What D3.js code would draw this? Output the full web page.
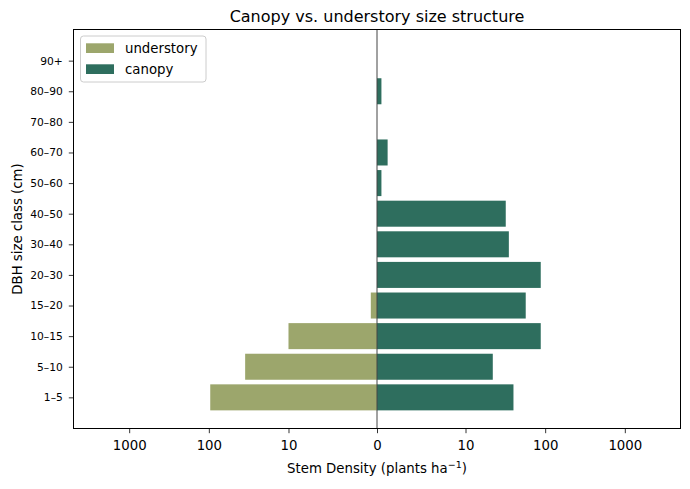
<!DOCTYPE html>
<html>
<head>
<meta charset="utf-8">
<script src="https://cdn.jsdelivr.net/npm/d3@7"></script>
<style>
  body { margin: 0; background: #fff; }
  text { font-family: "DejaVu Sans", sans-serif; fill: #000; }
</style>
</head>
<body>
<script>
const classes = ['1–5', '5–10', '10–15', '15–20', '20–30', '30–40', '40–50', '50–60', '60–70', '70–80', '80–90', '90+'];
const understory = [96, 35, 10, 0.7, 0, 0, 0, 0, 0, 0, 0, 0];
const canopy = [40, 22, 88, 57, 88, 35, 32, 0.5, 1.2, 0, 0.5, 0];
const xTicks = [-1000, -100, -10, 0, 10, 100, 1000];

const width = 690;
const height = 489;
const m = {left: 73.5, right: 680.5, top: 29.5, bottom: 428.5};

const svg = d3.select('body')
    .append('svg')
    .attr('width', width)
    .attr('height', height);

// matplotlib-like symlog, linthresh 10
const linthresh = 10;
const linAdj = 1 / (1 - 1 / 10);
function symlog(v) {
    const a = Math.abs(v);
    if (a <= linthresh) return v / linthresh * linAdj;
    return Math.sign(v) * (linAdj + Math.log10(a / linthresh));
}
const lin = d3.scaleLinear()
    .domain([symlog(-5000), symlog(5000)])
    .range([m.left, m.right]);
const x = v => lin(symlog(v));

const barH = 0.85;
const y = d3.scaleLinear()
    .domain([-0.425 - 0.5925, 11.425 + 0.5925])
    .range([m.bottom, m.top]);
const bandPx = y(0) - y(barH);

// bars
svg.append('g').selectAll('rect')
    .data(understory.map((v, i) => ({v, i})).filter(d => d.v > 0))
    .join('rect')
    .attr('x', d => x(-d.v))
    .attr('y', d => y(d.i + barH / 2))
    .attr('width', d => x(0) - x(-d.v))
    .attr('height', bandPx)
    .style('fill', '#9ca66c');

svg.append('g').selectAll('rect')
    .data(canopy.map((v, i) => ({v, i})).filter(d => d.v > 0))
    .join('rect')
    .attr('x', x(0))
    .attr('y', d => y(d.i + barH / 2))
    .attr('width', d => x(d.v) - x(0))
    .attr('height', bandPx)
    .style('fill', '#2e6e5e');

// zero line
svg.append('line')
    .attr('x1', x(0)).attr('x2', x(0))
    .attr('y1', m.top).attr('y2', m.bottom)
    .style('stroke', '#444')
    .style('stroke-width', 1);

// axes
const xAxis = d3.axisBottom(lin)
    .tickValues(xTicks.map(symlog))
    .tickFormat((d, i) => String(Math.abs(xTicks[i])))
    .tickSizeOuter(0)
    .tickSize(4.7)
    .tickPadding(7);
const gx = svg.append('g')
    .attr('transform', `translate(0,${m.bottom})`)
    .call(xAxis);
gx.select('.domain').remove();
gx.selectAll('text').style('font-size', '13.3px').style('font-family', '"DejaVu Sans", sans-serif');
gx.selectAll('line').style('stroke', '#000').style('stroke-width', 0.8);

const yAxis = d3.axisLeft(y)
    .tickValues(d3.range(classes.length))
    .tickFormat(i => classes[i])
    .tickSizeOuter(0)
    .tickSize(4.7)
    .tickPadding(6);
const gy = svg.append('g')
    .attr('transform', `translate(${m.left},0)`)
    .call(yAxis);
gy.select('.domain').remove();
gy.selectAll('text').style('font-size', '10.7px').style('font-family', '"DejaVu Sans", sans-serif');
gy.selectAll('line').style('stroke', '#000').style('stroke-width', 0.8);

// frame
svg.append('rect')
    .attr('x', m.left).attr('y', m.top)
    .attr('width', m.right - m.left)
    .attr('height', m.bottom - m.top)
    .style('fill', 'none')
    .style('stroke', '#000')
    .style('stroke-width', 1);

// labels
svg.append('text')
    .attr('x', (m.left + m.right) / 2)
    .attr('y', 22)
    .attr('text-anchor', 'middle')
    .style('font-size', '16px')
    .text('Canopy vs. understory size structure');

const xl = svg.append('text')
    .attr('x', (m.left + m.right) / 2)
    .attr('y', 473)
    .attr('text-anchor', 'middle')
    .style('font-size', '13.3px');
xl.append('tspan').text('Stem Density (plants ha');
xl.append('tspan').attr('dy', -5).style('font-size', '9.5px').text('−1');
xl.append('tspan').attr('dy', 5).text(')');

svg.append('text')
    .attr('transform', `translate(22,${(m.top + m.bottom) / 2}) rotate(-90)`)
    .attr('text-anchor', 'middle')
    .style('font-size', '13.3px')
    .text('DBH size class (cm)');

// legend
const lg = svg.append('g').attr('transform', 'translate(80.5,36)');
lg.append('rect')
    .attr('width', 125.5).attr('height', 46)
    .attr('rx', 3)
    .style('fill', '#fff')
    .style('fill-opacity', 0.8)
    .style('stroke', '#ccc');
const items = [['understory', '#9ca66c'], ['canopy', '#2e6e5e']];
items.forEach(([name, col], i) => {
    lg.append('rect')
        .attr('x', 5.5).attr('y', 7.3 + i * 21)
        .attr('width', 28).attr('height', 9.7)
        .style('fill', col);
    lg.append('text')
        .attr('x', 44.5).attr('y', 17 + i * 21)
        .style('font-size', '13.3px')
        .text(name);
});
</script>
</body>
</html>
